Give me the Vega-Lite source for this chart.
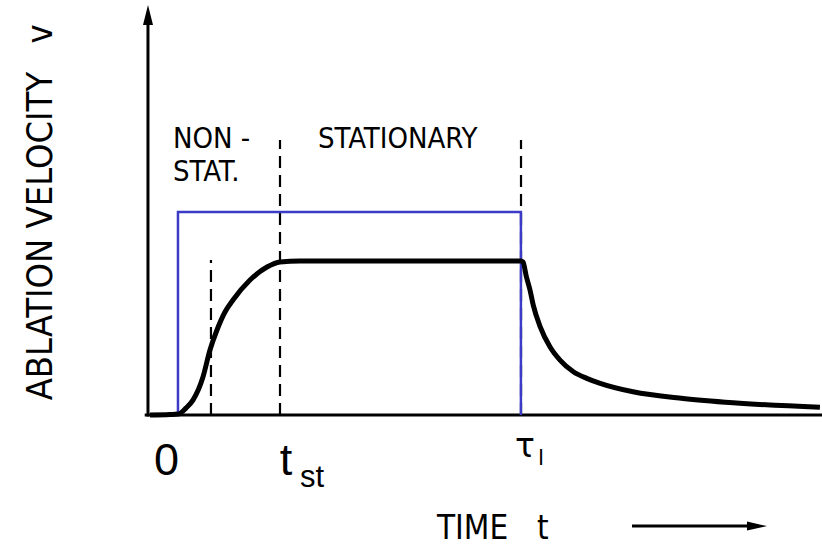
{
  "$schema": "https://vega.github.io/schema/vega-lite/v6.json",
  "width": 822,
  "height": 547,
  "padding": 0,
  "autosize": {"type": "none"},
  "background": "white",
  "config": {"view": {"stroke": null}},
  "datasets": {
    "curve": [
      {"t": -0.817, "v": 0.0},
      {"t": -0.233, "v": 0.003},
      {"t": 0.0, "v": 0.006},
      {"t": 0.233, "v": 0.045},
      {"t": 0.437, "v": 0.097},
      {"t": 0.729, "v": 0.247},
      {"t": 0.933, "v": 0.422},
      {"t": 1.137, "v": 0.552},
      {"t": 1.371, "v": 0.669},
      {"t": 1.604, "v": 0.747},
      {"t": 2.1, "v": 0.877},
      {"t": 2.596, "v": 0.961},
      {"t": 2.975, "v": 0.994},
      {"t": 3.558, "v": 1.0},
      {"t": 10.0, "v": 1.0},
      {"t": 10.06, "v": 0.994},
      {"t": 10.16, "v": 0.898},
      {"t": 10.265, "v": 0.812},
      {"t": 10.36, "v": 0.714},
      {"t": 10.56, "v": 0.574},
      {"t": 10.85, "v": 0.442},
      {"t": 11.14, "v": 0.357},
      {"t": 11.53, "v": 0.281},
      {"t": 11.92, "v": 0.238},
      {"t": 12.31, "v": 0.206},
      {"t": 13.27, "v": 0.151},
      {"t": 14.73, "v": 0.108},
      {"t": 16.19, "v": 0.08},
      {"t": 18.72, "v": 0.05}
    ],
    "pulse": [
      {"i": 1, "t": 0, "v": 0},
      {"i": 2, "t": 0, "v": 1.318},
      {"i": 3, "t": 10, "v": 1.318},
      {"i": 4, "t": 10, "v": 0}
    ],
    "dashed": [
      {"t": 0.962, "v": 0, "v2": 1.006},
      {"t": 2.975, "v": 0, "v2": 1.786},
      {"t": 10.003, "v": 0, "v2": 1.786}
    ],
    "hrules": [
      {"t": -0.97, "t2": 18.78, "v": 0},
      {"t": 13.24, "t2": 16.68, "v": -0.721}
    ],
    "vrules": [
      {"t": -0.875, "v": -0.01, "v2": 2.552}
    ],
    "uphead": [{"t": -0.875, "v": 2.597}],
    "righthead": [{"t": 16.885, "v": -0.721}],
    "narrowtext": [
      {"t": -0.146, "v": 1.734, "label": "NON -"},
      {"t": -0.146, "v": 1.519, "label": "STAT."},
      {"t": 4.083, "v": 1.734, "label": "STATIONARY"}
    ],
    "timetext": [
      {"t": 7.553, "v": -0.805, "label": "TIME"},
      {"t": 10.47, "v": -0.805, "label": "t"}
    ],
    "ylabel": [
      {"t": -3.675, "v": 1.162, "label": "ABLATION VELOCITY"},
      {"t": -3.675, "v": 2.474, "label": "v"}
    ],
    "bigtext": [
      {"t": -0.335, "v": -0.39, "label": "0", "al": "c"},
      {"t": 3.15, "v": -0.39, "label": "t", "al": "l"}
    ],
    "subtext": [
      {"t": 3.558, "v": -0.468, "label": "st"}
    ],
    "tautext": [
      {"t": 9.828, "v": -0.273, "label": "τ"}
    ],
    "tausub": [
      {"t": 10.5, "v": -0.325, "label": "l"}
    ]
  },
  "layer": [
    {
      "data": {"name": "hrules"},
      "mark": {"type": "rule", "color": "black", "strokeWidth": 3},
      "encoding": {
        "x": {"field": "t", "type": "quantitative", "scale": {"domain": [-5.19, 18.78], "nice": false, "zero": false}, "axis": null},
        "x2": {"field": "t2"},
        "y": {"field": "v", "type": "quantitative", "scale": {"domain": [-0.857, 2.695], "nice": false, "zero": false}, "axis": null}
      }
    },
    {
      "data": {"name": "vrules"},
      "mark": {"type": "rule", "color": "black", "strokeWidth": 3},
      "encoding": {
        "x": {"field": "t", "type": "quantitative", "scale": {"domain": [-5.19, 18.78], "nice": false, "zero": false}, "axis": null},
        "y": {"field": "v", "type": "quantitative", "scale": {"domain": [-0.857, 2.695], "nice": false, "zero": false}, "axis": null},
        "y2": {"field": "v2"}
      }
    },
    {
      "data": {"name": "uphead"},
      "mark": {"type": "point", "shape": "M0,-1L0.5,1L-0.5,1Z", "size": 400, "filled": true, "color": "black", "opacity": 1},
      "encoding": {
        "x": {"field": "t", "type": "quantitative", "scale": {"domain": [-5.19, 18.78], "nice": false, "zero": false}, "axis": null},
        "y": {"field": "v", "type": "quantitative", "scale": {"domain": [-0.857, 2.695], "nice": false, "zero": false}, "axis": null}
      }
    },
    {
      "data": {"name": "righthead"},
      "mark": {"type": "point", "shape": "M1,0L-1,-0.45L-1,0.45Z", "size": 400, "filled": true, "color": "black", "opacity": 1},
      "encoding": {
        "x": {"field": "t", "type": "quantitative", "scale": {"domain": [-5.19, 18.78], "nice": false, "zero": false}, "axis": null},
        "y": {"field": "v", "type": "quantitative", "scale": {"domain": [-0.857, 2.695], "nice": false, "zero": false}, "axis": null}
      }
    },
    {
      "data": {"name": "dashed"},
      "mark": {"type": "rule", "color": "black", "strokeWidth": 2.2, "strokeDash": [12, 7]},
      "encoding": {
        "x": {"field": "t", "type": "quantitative", "scale": {"domain": [-5.19, 18.78], "nice": false, "zero": false}, "axis": null},
        "y": {"field": "v", "type": "quantitative", "scale": {"domain": [-0.857, 2.695], "nice": false, "zero": false}, "axis": null},
        "y2": {"field": "v2"}
      }
    },
    {
      "data": {"name": "pulse"},
      "mark": {"type": "line", "color": "#3b3bc8", "strokeWidth": 2.5, "strokeJoin": "miter"},
      "encoding": {
        "x": {"field": "t", "type": "quantitative", "scale": {"domain": [-5.19, 18.78], "nice": false, "zero": false}, "axis": null},
        "y": {"field": "v", "type": "quantitative", "scale": {"domain": [-0.857, 2.695], "nice": false, "zero": false}, "axis": null},
        "order": {"field": "i", "type": "quantitative"}
      }
    },
    {
      "data": {"name": "curve"},
      "mark": {"type": "line", "color": "black", "strokeWidth": 5, "interpolate": "monotone"},
      "encoding": {
        "x": {"field": "t", "type": "quantitative", "scale": {"domain": [-5.19, 18.78], "nice": false, "zero": false}, "axis": null},
        "y": {"field": "v", "type": "quantitative", "scale": {"domain": [-0.857, 2.695], "nice": false, "zero": false}, "axis": null}
      }
    },
    {
      "data": {"name": "narrowtext"},
      "mark": {"type": "text", "align": "left", "baseline": "alphabetic", "font": "DejaVu Sans Condensed, Liberation Sans Narrow, sans-serif", "fontSize": 29, "color": "black"},
      "encoding": {
        "x": {"field": "t", "type": "quantitative", "scale": {"domain": [-5.19, 18.78], "nice": false, "zero": false}, "axis": null},
        "y": {"field": "v", "type": "quantitative", "scale": {"domain": [-0.857, 2.695], "nice": false, "zero": false}, "axis": null},
        "text": {"field": "label"}
      }
    },
    {
      "data": {"name": "timetext"},
      "mark": {"type": "text", "align": "left", "baseline": "alphabetic", "font": "DejaVu Sans Condensed, Liberation Sans Narrow, sans-serif", "fontSize": 33, "color": "black"},
      "encoding": {
        "x": {"field": "t", "type": "quantitative", "scale": {"domain": [-5.19, 18.78], "nice": false, "zero": false}, "axis": null},
        "y": {"field": "v", "type": "quantitative", "scale": {"domain": [-0.857, 2.695], "nice": false, "zero": false}, "axis": null},
        "text": {"field": "label"}
      }
    },
    {
      "data": {"name": "ylabel"},
      "mark": {"type": "text", "align": "center", "baseline": "alphabetic", "angle": 270, "font": "DejaVu Sans Condensed, Liberation Sans Narrow, sans-serif", "fontSize": 36, "color": "black"},
      "encoding": {
        "x": {"field": "t", "type": "quantitative", "scale": {"domain": [-5.19, 18.78], "nice": false, "zero": false}, "axis": null},
        "y": {"field": "v", "type": "quantitative", "scale": {"domain": [-0.857, 2.695], "nice": false, "zero": false}, "axis": null},
        "text": {"field": "label"}
      }
    },
    {
      "data": {"name": "bigtext"},
      "mark": {"type": "text", "baseline": "alphabetic", "font": "Liberation Sans, Arial, sans-serif", "fontSize": 45, "color": "black"},
      "encoding": {
        "x": {"field": "t", "type": "quantitative", "scale": {"domain": [-5.19, 18.78], "nice": false, "zero": false}, "axis": null},
        "y": {"field": "v", "type": "quantitative", "scale": {"domain": [-0.857, 2.695], "nice": false, "zero": false}, "axis": null},
        "text": {"field": "label"},
        "align": {"condition": {"test": "datum.al === 'c'", "value": "center"}, "value": "left"}
      }
    },
    {
      "data": {"name": "subtext"},
      "mark": {"type": "text", "align": "left", "baseline": "alphabetic", "font": "Liberation Sans, Arial, sans-serif", "fontSize": 31, "color": "black"},
      "encoding": {
        "x": {"field": "t", "type": "quantitative", "scale": {"domain": [-5.19, 18.78], "nice": false, "zero": false}, "axis": null},
        "y": {"field": "v", "type": "quantitative", "scale": {"domain": [-0.857, 2.695], "nice": false, "zero": false}, "axis": null},
        "text": {"field": "label"}
      }
    },
    {
      "data": {"name": "tautext"},
      "mark": {"type": "text", "align": "left", "baseline": "alphabetic", "font": "DejaVu Sans, sans-serif", "fontSize": 33, "color": "black"},
      "encoding": {
        "x": {"field": "t", "type": "quantitative", "scale": {"domain": [-5.19, 18.78], "nice": false, "zero": false}, "axis": null},
        "y": {"field": "v", "type": "quantitative", "scale": {"domain": [-0.857, 2.695], "nice": false, "zero": false}, "axis": null},
        "text": {"field": "label"}
      }
    },
    {
      "data": {"name": "tausub"},
      "mark": {"type": "text", "align": "left", "baseline": "alphabetic", "font": "DejaVu Sans, sans-serif", "fontSize": 22, "color": "black"},
      "encoding": {
        "x": {"field": "t", "type": "quantitative", "scale": {"domain": [-5.19, 18.78], "nice": false, "zero": false}, "axis": null},
        "y": {"field": "v", "type": "quantitative", "scale": {"domain": [-0.857, 2.695], "nice": false, "zero": false}, "axis": null},
        "text": {"field": "label"}
      }
    }
  ]
}
